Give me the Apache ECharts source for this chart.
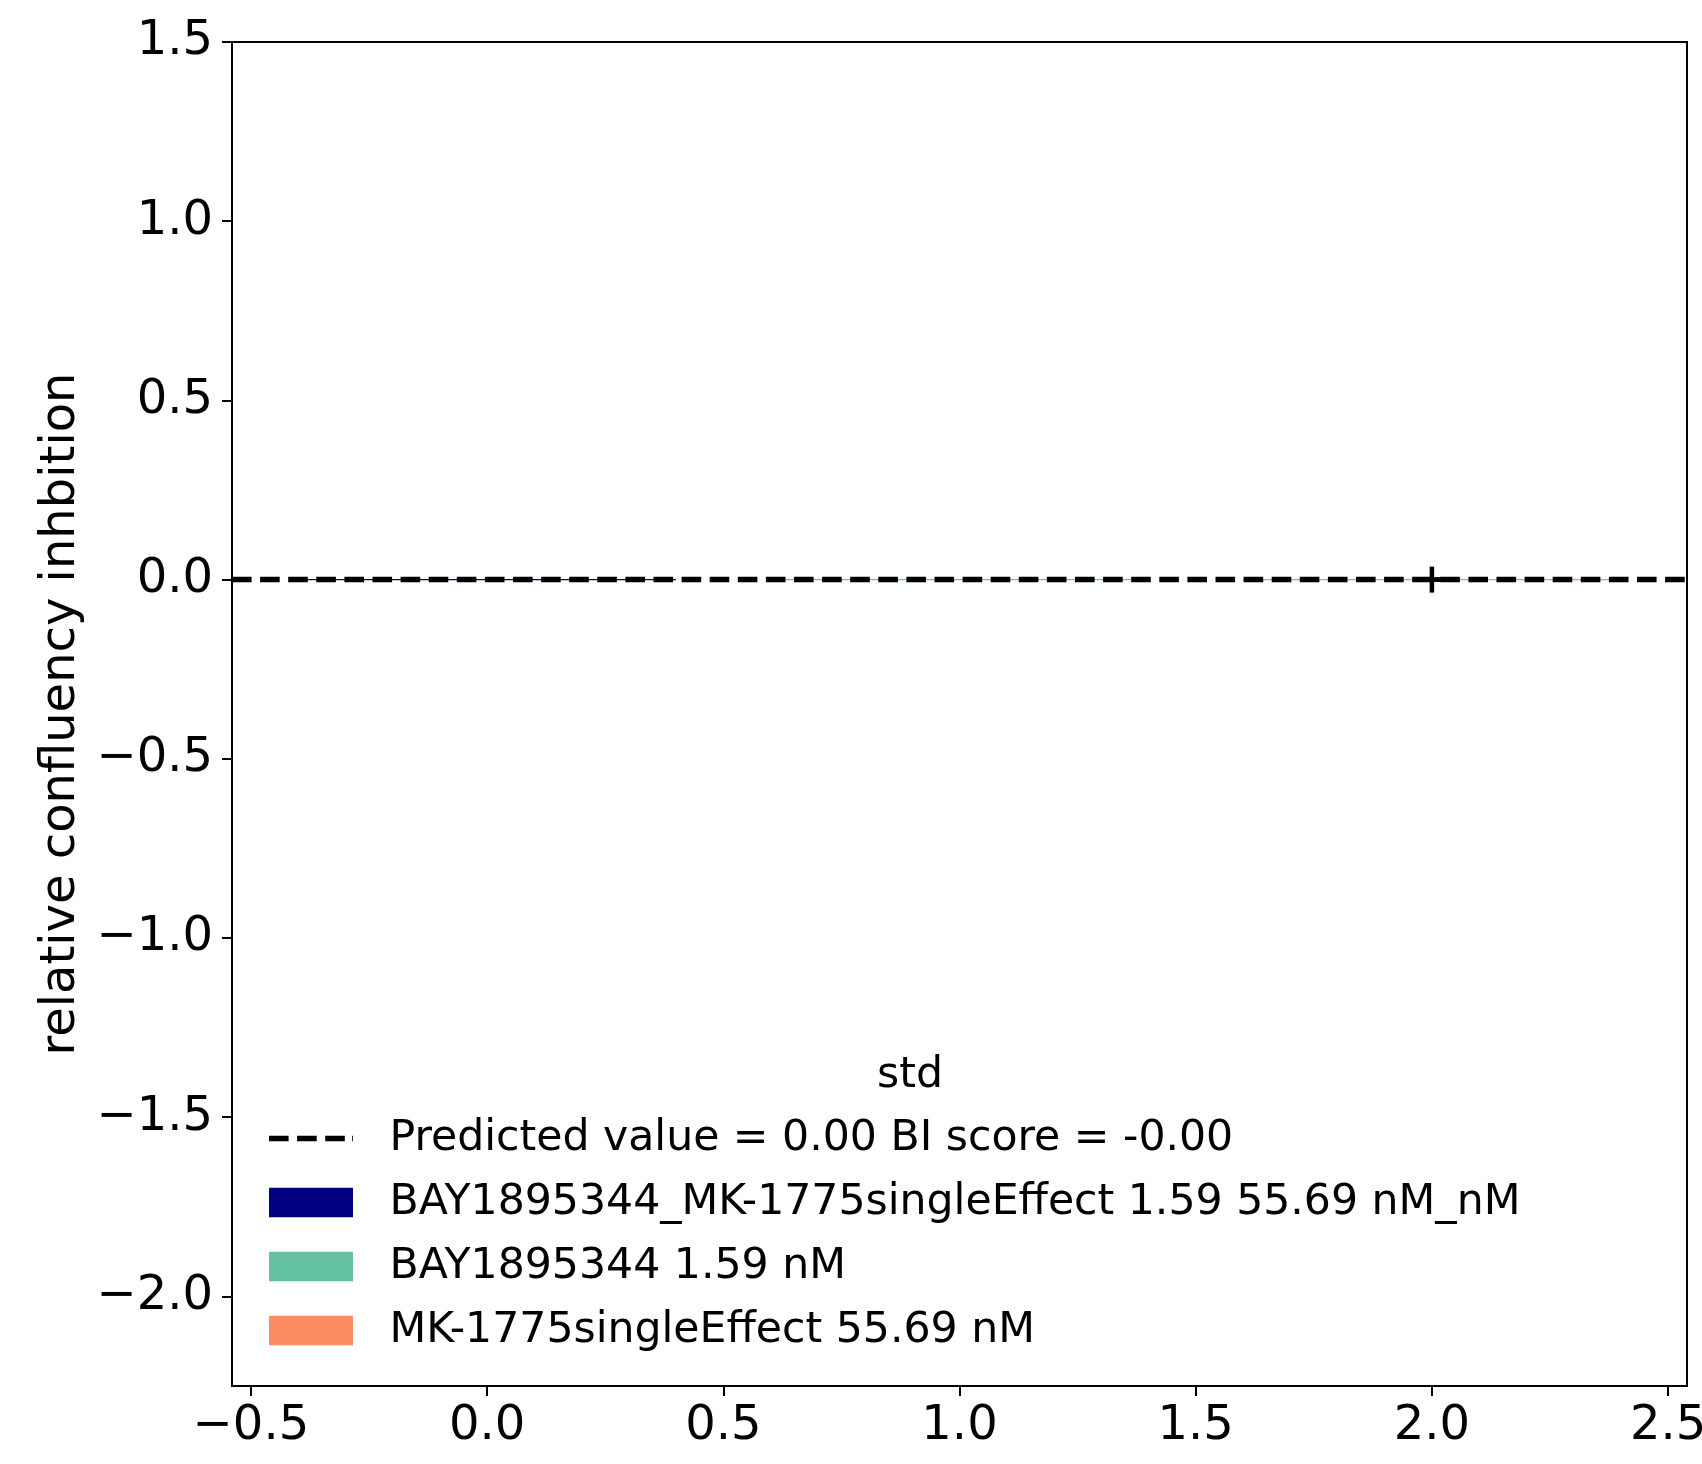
<!DOCTYPE html>
<html>
<head>
<meta charset="utf-8">
<script src="https://cdn.jsdelivr.net/npm/echarts@6/dist/echarts.min.js"></script>
<style>
  html, body { margin: 0; padding: 0; background: #fff; overflow: hidden; }
  #chart { width: 1702px; height: 1464px; }
</style>
</head>
<body>
<div id="chart"></div>
<script>
// ---- data ----
const barNames = [
  'BAY1895344_MK-1775singleEffect 1.59 55.69 nM_nM',
  'BAY1895344 1.59 nM',
  'MK-1775singleEffect 55.69 nM'
];
const barPositions = [0, 1, 2];
const barValues = [0, 0, 0];
const stdValues = [null, null, 0];
const barColors = ['#000080', '#66c2a5', '#fc8d62'];
const predictedValue = 0.00;
const predictedName = 'Predicted value = 0.00 BI score = -0.00';
const legendTitle = 'std';
const xTicks = [-0.5, 0, 0.5, 1, 1.5, 2, 2.5];
const yTicks = [-2, -1.5, -1, -0.5, 0, 0.5, 1, 1.5];
const yAxisTitle = 'relative confluency inhbition';

// ---- rendering ----
const FONT = 'DejaVu Sans';
const BAR_HALF = 0.4;
const fmt = v => (v < 0 ? '\u2212' : '') + Math.abs(v).toFixed(1);

// dashed legend handle (84 x 29.4 box, dash 19.6 / gap 8.5, thickness 5.3)
const dashIcon = 'path://' +
  'M0,0h0.01v0.01h-0.01z M83.99,29.39h0.01v0.01h-0.01z ' +
  'M0,12.05h19.6v5.3h-19.6z M28.1,12.05h19.6v5.3h-19.6z ' +
  'M56.2,12.05h19.6v5.3h-19.6z M83.2,12.05h0.8v5.3h-0.8z';

const chart = echarts.init(document.getElementById('chart'), null, { renderer: 'canvas' });

function renderBar(params, api) {
  const x = api.value(0), v = api.value(1);
  const pA = api.coord([x - BAR_HALF, v]);
  const pB = api.coord([x + BAR_HALF, 0]);
  let y0 = Math.min(pA[1], pB[1]);
  let h = Math.abs(pB[1] - pA[1]);
  if (h < 1.2) { y0 = pB[1] - 0.6; h = 1.2; }
  return {
    type: 'rect',
    shape: { x: pA[0], y: y0, width: pB[0] - pA[0], height: h },
    style: { fill: api.visual('color') }
  };
}

function renderErr(params, api) {
  const x = api.value(0), v = api.value(1), s = api.value(2);
  const top = api.coord([x, v + s]);
  const bot = api.coord([x, v - s]);
  const cap = 12.5, ext = 13;
  const st = { stroke: '#000', lineWidth: 4.5 };
  return {
    type: 'group',
    children: [
      { type: 'line', shape: { x1: top[0], y1: top[1] - ext, x2: bot[0], y2: bot[1] + ext }, style: st },
      { type: 'line', shape: { x1: top[0] - cap, y1: top[1], x2: top[0] + cap, y2: top[1] }, style: st },
      { type: 'line', shape: { x1: bot[0] - cap, y1: bot[1], x2: bot[0] + cap, y2: bot[1] }, style: st }
    ]
  };
}

const series = [];
series.push({
  name: predictedName,
  type: 'line',
  data: [],
  symbol: 'none',
  z: 5,
  lineStyle: { color: '#000', width: 5.3, type: [19.6, 8.5] },
  itemStyle: { color: '#000' },
  markLine: {
    silent: true,
    symbol: 'none',
    label: { show: false },
    lineStyle: { color: '#000', width: 5.3, type: [19.6, 8.5] },
    emphasis: { disabled: true },
    data: [{ yAxis: predictedValue }]
  }
});
barNames.forEach((name, i) => {
  series.push({
    name: name,
    type: 'custom',
    z: 2,
    itemStyle: { color: barColors[i] },
    encode: { x: 0, y: 1 },
    data: [[barPositions[i], barValues[i]]],
    renderItem: renderBar
  });
});
const errData = [];
barPositions.forEach((x, i) => {
  if (stdValues[i] !== null) errData.push([x, barValues[i], stdValues[i]]);
});
series.push({
  name: '__err',
  type: 'custom',
  z: 10,
  encode: { x: 0, y: 1 },
  data: errData,
  renderItem: renderErr
});

const option = {
  animation: false,
  backgroundColor: '#fff',
  textStyle: { fontFamily: FONT, color: '#000' },
  grid: {
    left: 232, right: 15, top: 42, bottom: 78,
    outerBoundsMode: 'none',
    containLabel: false,
    show: true, borderColor: '#000', borderWidth: 2, backgroundColor: 'transparent'
  },
  xAxis: {
    type: 'value',
    min: -0.54, max: 2.54,
    splitLine: { show: false },
    axisLine: { show: true, onZero: false, lineStyle: { color: '#000', width: 2 } },
    axisTick: { show: true, length: 10, lineStyle: { color: '#000', width: 2 }, customValues: xTicks },
    axisLabel: {
      fontSize: 48, fontFamily: FONT, color: '#000', margin: 17,
      customValues: xTicks, formatter: fmt, hideOverlap: false
    }
  },
  yAxis: {
    type: 'value',
    min: -2.25, max: 1.5,
    splitLine: { show: false },
    axisLine: { show: true, onZero: false, lineStyle: { color: '#000', width: 2 } },
    axisTick: { show: true, length: 10, lineStyle: { color: '#000', width: 2 }, customValues: yTicks },
    axisLabel: {
      fontSize: 48, fontFamily: FONT, color: '#000', margin: 19,
      padding: [11, 0, 0, 0],
      customValues: yTicks, formatter: fmt
    },
    name: yAxisTitle,
    nameLocation: 'middle',
    nameRotate: 90,
    nameGap: 144,
    nameTextStyle: { fontSize: 48, fontFamily: FONT, color: '#000' }
  },
  legend: {
    orient: 'vertical',
    left: 269,
    top: 1117,
    padding: 0,
    itemWidth: 84,
    itemHeight: 29.4,
    itemGap: 21,
    selectedMode: false,
    textStyle: { fontSize: 42.6, lineHeight: 42, fontFamily: FONT, color: '#000', padding: [0, 0, 0, 31.5] },
    data: [
      { name: predictedName, icon: dashIcon },
      ...barNames.map(n => ({ name: n, icon: 'rect' }))
    ]
  },
  graphic: [{
    type: 'text',
    x: 910, y: 1076,
    style: {
      text: legendTitle, fontSize: 42.6, fontFamily: FONT, fill: '#000',
      textAlign: 'center', textVerticalAlign: 'middle'
    }
  }],
  series: series
};
chart.setOption(option);
</script>
</body>
</html>
